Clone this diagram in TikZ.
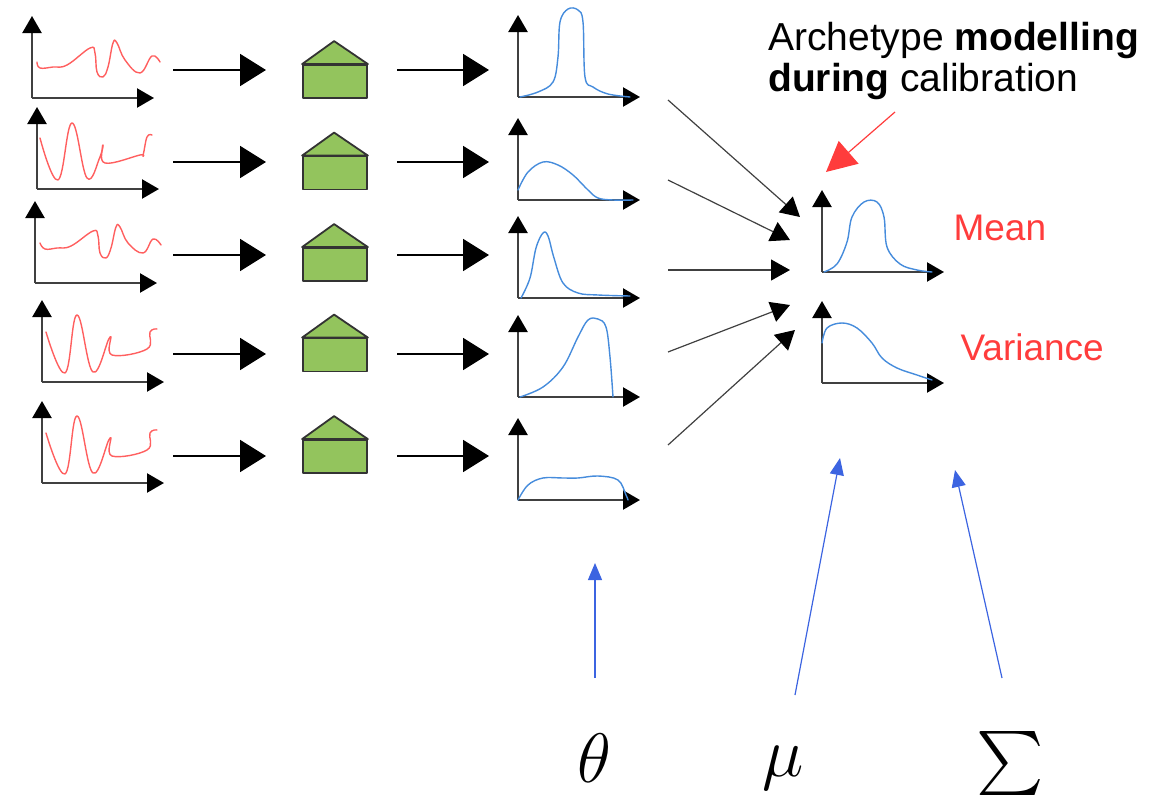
\documentclass[tikz,border=0pt]{standalone}
\usepackage{fix-cm}
\usepackage{fontspec}
\setmainfont{Liberation Sans}
\usetikzlibrary{arrows.meta}
\definecolor{boxgreen}{RGB}{147,196,93}
\definecolor{sigred}{RGB}{255,95,95}
\definecolor{pdfblue}{RGB}{70,140,220}
\definecolor{labred}{RGB}{255,60,60}
\definecolor{symblue}{RGB}{60,100,225}
\begin{document}
\begin{tikzpicture}[x=1pt,y=-1pt, line join=round, line cap=round,
  axis/.style={line width=2.4pt,black!75,line cap=butt,-{Triangle[length=17pt,width=19pt,fill=black,color=black]}},
  sig/.style={sigred,line width=1.4pt},
  pdf/.style={pdfblue,line width=1.4pt},
  flow/.style={line width=2pt,line cap=butt,-{Triangle[length=26pt,width=32pt]}},
  merge/.style={line width=1.2pt,black!75,line cap=butt,-{Triangle[length=19pt,width=21pt,color=black]}},
  model/.style={draw=black!80,fill=boxgreen,line width=1.8pt,inner sep=0pt,minimum width=64pt,minimum height=33pt},
  tag/.style={labred,font=\fontsize{37}{40}\selectfont},
  hint/.style={symblue,line width=1.2pt,line cap=butt,-{Triangle[length=17pt,width=14pt]}},
  sym/.style={inner sep=0pt,font=\fontsize{70}{70}\selectfont}]
\useasboundingbox (0,0) rectangle (1163,795);
\foreach \n/\x/\y in {s1/32/98,s2/37/189,s3/35/283,s4/42/382,s5/42/483,p1/518/97,p2/518/200,p3/518/298,p4/518/397,p5/518/500,c1/822/272,c2/822/383}{
  \coordinate (\n) at (\x,\y);
  \draw[axis] (\n) -- ++(0,-82);
  \draw[axis] (\n) -- ++(122,0);
}
\draw[sig,shift={(s1)}] plot[smooth,tension=0.7] coordinates {(5,-36)(8,-30)(21,-31)(35,-33)(58,-50)(63,-45)(65,-26)(71,-21)(76,-31)(81,-55)(85,-55)(93,-38)(108,-25)(120,-42)(128,-36)};
\draw[sig,shift={(s2)}] plot[smooth,tension=0.7] coordinates {(3,-51)(21,-9)(35,-66)(50,-11)(63,-32)(66,-44)(68,-26)(103,-34)(106,-34)(110,-52)(115,-54)};
\draw[sig,shift={(s3)}] plot[smooth,tension=0.7] coordinates {(5,-40)(10,-34)(22,-35)(36,-37)(58,-52)(63,-47)(65,-30)(71,-25)(76,-35)(81,-56)(85,-56)(93,-40)(108,-30)(118,-44)(126,-38)};
\draw[sig,shift={(s4)}] plot[smooth,tension=0.7] coordinates {(4,-50)(23,-9)(35,-67)(51,-10)(68,-45)(70,-27)(105,-33)(108,-50)(115,-53)};
\draw[sig,shift={(s5)}] plot[smooth,tension=0.7] coordinates {(4,-50)(23,-9)(35,-67)(51,-10)(68,-45)(70,-27)(105,-33)(108,-50)(115,-53)};
\draw[pdf,shift={(p1)}] plot[smooth,tension=0.6] coordinates {(2,0)(20,-5)(35,-15)(40,-40)(42,-75)(50,-88)(60,-87)(65,-75)(67,-20)(75,-10)(90,-3)(112,0)};
\draw[pdf,shift={(p2)}] plot[smooth,tension=0.6] coordinates {(0,-10)(10,-28)(25,-38)(40,-35)(55,-25)(70,-10)(80,-2)(95,0)(115,0)};
\draw[pdf,shift={(p3)}] plot[smooth,tension=0.6] coordinates {(3,0)(12,-20)(18,-50)(25,-65)(30,-62)(36,-40)(45,-15)(60,-5)(80,-3)(112,-2)};
\draw[pdf,shift={(p4)}] plot[smooth,tension=0.6] coordinates {(2,0)(25,-10)(45,-30)(60,-60)(70,-77)(80,-78)(88,-70)(92,-40)(95,0)};
\draw[pdf,shift={(p5)}] plot[smooth,tension=0.6] coordinates {(0,0)(10,-15)(25,-22)(45,-22)(60,-22)(80,-24)(100,-20)(108,-5)(110,0)};
\draw[pdf,shift={(c1)}] plot[smooth,tension=0.6] coordinates {(2,0)(15,-8)(25,-30)(30,-55)(42,-70)(55,-70)(62,-55)(65,-25)(78,-8)(95,-2)(110,0)};
\draw[pdf,shift={(c2)}] plot[smooth,tension=0.6] coordinates {(0,-40)(5,-55)(20,-60)(35,-55)(50,-40)(60,-25)(75,-15)(95,-8)(110,-3)};
\foreach \i/\hy/\ay in {1/81.5/70,2/173/162,3/264.5/255,4/355/354,5/456.5/456}{
  \node[model] (h\i) at (335,\hy) {};
  \draw[draw=black!80,fill=boxgreen,line width=1.8pt] (h\i.north west) -- ++(32,-23) -- (h\i.north east) -- cycle;
  \coordinate (a\i) at (173,\ay);
  \coordinate (b\i) at (266,\ay);
  \coordinate (d\i) at (397,\ay);
  \coordinate (e\i) at (489,\ay);
  \draw[flow] (a\i) -- (b\i);
  \draw[flow] (d\i) -- (e\i);
}
\foreach \i/\qy/\tx/\ty in {1/100/800/217,2/180/790/240,3/270/790/270,4/352/790/305,5/445/795/330}{
  \coordinate (q\i) at (668,\qy);
  \coordinate (t\i) at (\tx,\ty);
  \draw[merge] (q\i) -- (t\i);
}
\node[anchor=north west,align=left,font=\fontsize{39}{41}\selectfont,inner sep=0pt] (note) at (768,22) {Archetype \textbf{modelling}\\\textbf{during} calibration};
\coordinate (n1) at (895,112);
\coordinate (n2) at (826,172);
\draw[labred,line width=1.2pt,line cap=butt,-{Triangle[length=30pt,width=30pt]}] (n1) -- (n2);
\node[tag,anchor=west] (mean) at (950,228) {Mean};
\node[tag,anchor=west] (var) at (957,347) {Variance};
\node[sym] (theta) at (594,758) {$\theta$};
\node[sym] (mu) at (783,768) {$\mu$};
\node[inner sep=0pt,scale=6.4] (sigma) at (1010,763) {$\textstyle\sum$};
\coordinate (u1) at (595,678);
\coordinate (v1) at (595,563);
\coordinate (u2) at (795,695);
\coordinate (v2) at (840,458);
\coordinate (u3) at (1002,678);
\coordinate (v3) at (955,470);
\draw[hint] (u1) -- (v1);
\draw[hint] (u2) -- (v2);
\draw[hint] (u3) -- (v3);
\end{tikzpicture}
\end{document}
